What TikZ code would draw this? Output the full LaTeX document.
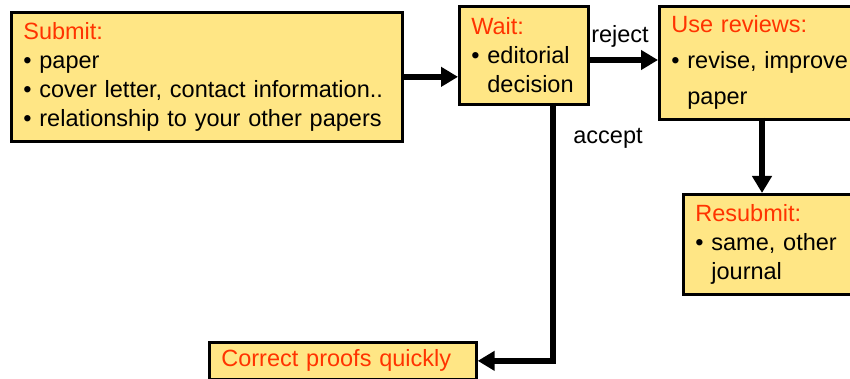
\documentclass[tikz,border=0pt]{standalone}
\usepackage{fontspec}
\setmainfont{Liberation Sans}
\usetikzlibrary{arrows.meta}
\definecolor{boxfill}{RGB}{255,230,133}
\definecolor{headred}{RGB}{255,51,0}
\tikzset{
  box/.style={draw=black, line width=2.7pt, fill=boxfill, rectangle, anchor=north west,
    inner xsep=12pt, inner ysep=0pt, align=left,
    font=\fontsize{23.5}{29}\selectfont},
  conn/.style={draw=black, line width=6.5pt, -{Triangle[length=17pt,width=19pt]}},
  lbl/.style={font=\fontsize{23.5}{27}\selectfont, inner sep=0pt},
}
\newcommand{\ind}{\phantom{\textbullet\ }}
\begin{document}
\begin{tikzpicture}[x=1pt,y=-1pt]
\useasboundingbox (0,0) rectangle (850,379);
\clip (0,0) rectangle (850,379);
\node[box, minimum width=391pt, minimum height=129pt, text width=367pt] (submit) at (10,11)
  {\textcolor{headred}{Submit:}\\ \textbullet\ paper\\ \textbullet\ cover letter, contact information..\\ \textbullet\ relationship to your other papers};
\node[box, minimum width=129pt, minimum height=98pt, text width=105pt] (wait) at (458,5)
  {\textcolor{headred}{Wait:}\\ \textbullet\ editorial\\ \ind decision};
\node[box, minimum width=230pt, minimum height=113pt, text width=206pt] (reviews) at (658,5)
  {\textcolor{headred}{Use reviews:}\\[7pt] \textbullet\ revise, improve\\[7pt] \ind paper};
\node[box, minimum width=200pt, minimum height=100pt, text width=176pt] (resubmit) at (682,193)
  {\textcolor{headred}{Resubmit:}\\ \textbullet\ same, other\\ \ind journal};
\node[box, minimum width=267pt, minimum height=37pt, text width=243pt] (proofs) at (208,341)
  {\textcolor{headred}{Correct proofs quickly}};
\coordinate (rj) at (587,60);
\coordinate (rv) at (762,118);
\coordinate (ac) at (553,103);
\draw[conn] (submit.east) -- (wait.west |- submit.east);
\draw[conn] (rj) -- (reviews.west |- rj);
\draw[conn] (rv) -- (rv |- resubmit.north);
\draw[conn] (ac) |- (proofs.east);
\node[lbl] (reject) at (620,36) {reject};
\node[lbl] (accept) at (608,138) {accept};
\end{tikzpicture}
\end{document}
